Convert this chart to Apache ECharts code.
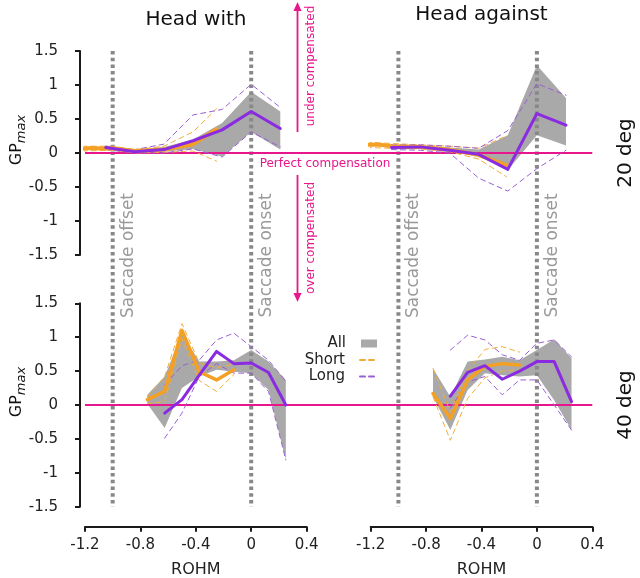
<!DOCTYPE html>
<html><head><meta charset="utf-8">
<script src="https://cdn.jsdelivr.net/npm/echarts@6/dist/echarts.min.js"></script>
<style>html,body{margin:0;padding:0;background:#fff}#c{width:640px;height:578px}</style>
</head><body><div id="c"></div>
<script>
// ---------- data ----------
const xTicks = [-1.2, -0.8, -0.4, 0, 0.4];
const yTicks = [-1.5, -1, -0.5, 0, 0.5, 1, 1.5];
const panelTitles = ['Head with', 'Head against'];
const rowLabels = ['20 deg', '40 deg'];
const eventX = [-1, 0];
const eventNames = ['Saccade offset', 'Saccade onset'];

// 20 deg bins
const topX = [-1.05, -0.84, -0.63, -0.42, -0.21, 0, 0.21];
// 40 deg bins
const botAllX = [-0.75, -0.625, -0.5, -0.375, -0.25, -0.125, 0, 0.125, 0.25];
const botShortX = [-0.75, -0.625, -0.5, -0.375, -0.25, -0.125];
const botLongX = [-0.625, -0.5, -0.375, -0.25, -0.125, 0, 0.125, 0.25];

// Head with, 20 deg
const tlShortMeanX = [-1.22, -1.15, -1.08, -1.0, -0.84, -0.63, -0.42, -0.25];
const tlShortMean = [0.065, 0.075, 0.065, 0.07, 0.03, 0.05, 0.13, 0.35];
const tlShortX = [-1.22, -1.0, -0.84, -0.63, -0.42, -0.25];
const tlShortHi = [0.1, 0.1, 0.05, 0.1, 0.31, 0.65];
const tlShortLo = [0.03, 0.04, 0.0, 0.01, 0.03, -0.12];
const tlLong = [0.08, 0.02, 0.05, 0.18, 0.34, 0.61, 0.36];
const tlLongHi = [0.1, 0.05, 0.13, 0.56, 0.64, 1.01, 0.67];
const tlLongLo = [0.05, 0.0, 0.0, 0.06, -0.06, 0.31, 0.09];
const tlAllHi = [0.11, 0.05, 0.09, 0.2, 0.44, 0.9, 0.61];
const tlAllLo = [0.05, 0.01, 0.02, 0.06, -0.05, 0.31, 0.05];

// Head against, 20 deg
const trShortMeanX = [-1.23, -1.16, -1.1, -1.05, -0.84, -0.63, -0.42, -0.22];
const trShortMean = [0.12, 0.125, 0.115, 0.1, 0.09, 0.05, -0.03, -0.18];
const trShortX = [-1.23, -1.05, -0.84, -0.63, -0.42, -0.22];
const trShortHi = [0.16, 0.14, 0.12, 0.1, 0.07, 0.25];
const trShortLo = [0.08, 0.07, 0.06, 0.02, -0.09, -0.35];
const trLong = [0.08, 0.09, 0.04, -0.02, -0.24, 0.58, 0.41];
const trLongHi = [0.12, 0.12, 0.1, 0.07, 0.33, 1.02, 0.85];
const trLongLo = [0.05, 0.04, 0.0, -0.37, -0.56, -0.23, 0.04];
const trAllHi = [0.12, 0.11, 0.08, 0.05, 0.26, 1.29, 0.81];
const trAllLo = [0.05, 0.06, 0.01, -0.04, -0.25, 0.26, 0.11];

// Head with, 40 deg
const blShort = [0.08, 0.2, 1.1, 0.49, 0.37, 0.52];
const blShortHi = [0.12, 0.42, 1.2, 0.62, 0.55, 0.6];
const blShortLo = [0.02, 0.05, 0.98, 0.36, 0.2, 0.45];
const blLong = [-0.12, 0.08, 0.44, 0.79, 0.61, 0.62, 0.48, 0.0];
const blLongHi = [0.3, 0.58, 0.66, 0.96, 1.06, 0.86, 0.66, 0.35];
const blLongLo = [-0.49, -0.12, 0.42, 0.61, 0.47, 0.47, 0.2, -0.81];
const blAllHi = [0.15, 0.42, 1.05, 0.64, 0.64, 0.66, 0.81, 0.64, 0.37];
const blAllLo = [0.02, -0.34, 0.25, 0.42, 0.52, 0.49, 0.47, 0.22, -0.81];

// Head against, 40 deg
const brShort = [0.17, -0.2, 0.37, 0.57, 0.61, 0.59];
const brShortHi = [0.54, -0.1, 0.5, 0.82, 0.86, 0.78];
const brShortLo = [0.12, -0.52, 0.1, 0.4, 0.5, 0.52];
const brLong = [0.13, 0.48, 0.58, 0.38, 0.5, 0.64, 0.64, 0.05];
const brLongHi = [0.81, 1.03, 0.96, 0.74, 0.66, 0.91, 0.96, 0.71];
const brLongLo = [-0.05, 0.34, 0.42, 0.15, 0.37, 0.37, 0.0, -0.37];
const brAllHi = [0.54, 0.12, 0.64, 0.67, 0.71, 0.66, 0.81, 0.97, 0.69];
const brAllLo = [0.12, -0.37, 0.22, 0.47, 0.44, 0.42, 0.44, 0.07, -0.37];

// ---------- styles ----------
const FONT = 'DejaVu Sans';
const ORANGE = '#f4a024';
const ORANGE_D = '#f2ac3a';
const PURPLE = '#8a2be2';
const PURPLE_D = '#9a5fd4';
const GRAY = '#a9a9a9';
const PINK = '#e8168c';
const DOT = '#888888';
const INK = '#1a1a1a';

function zip(xs, ys) { return xs.map((x, i) => [x, ys[i]]); }

function band(gi, xs, lo, hi) {
  return {
    type: 'custom', name: 'All', xAxisIndex: gi, yAxisIndex: gi, z: 1, silent: true,
    itemStyle: { color: GRAY },
    data: xs.map((x, i) => [x, lo[i], hi[i]]),
    encode: { x: 0, y: [1, 2] },
    renderItem(params, api) {
      if (params.dataIndexInside !== 0) return null;
      const n = params.dataInsideLength;
      const up = [], dn = [];
      for (let i = 0; i < n; i++) {
        up.push(api.coord([api.value(0, i), api.value(2, i)]));
        dn.push(api.coord([api.value(0, i), api.value(1, i)]));
      }
      return { type: 'polygon', shape: { points: up.concat(dn.reverse()) }, style: { fill: GRAY } };
    }
  };
}
function line(name, gi, xs, ys, color, width, dashed, z) {
  return {
    type: 'line', name, xAxisIndex: gi, yAxisIndex: gi, z, silent: true,
    data: zip(xs, ys), symbol: 'none',
    lineStyle: { color, width, type: dashed ? [5, 4] : 'solid', cap: 'round', join: 'round' },
    itemStyle: { color }
  };
}
function panel(gi, allX, allLo, allHi, sX, sHi, sLo, smX, sm, lX, lHi, lLo, lm, smWidth) {
  return [
    band(gi, allX, allLo, allHi),
    line('Short', gi, sX, sHi, ORANGE_D, 1, true, 3),
    line('Short', gi, sX, sLo, ORANGE_D, 1, true, 3),
    line('Long', gi, lX, lHi, PURPLE_D, 1, true, 3),
    line('Long', gi, lX, lLo, PURPLE_D, 1, true, 3),
    line('Short mean', gi, smX, sm, ORANGE, smWidth, false, 4),
    line('Long mean', gi, lX, lm, PURPLE, 3, false, 5)
  ];
}

const series = [].concat(
  panel(0, topX, tlAllLo, tlAllHi, tlShortX, tlShortHi, tlShortLo, tlShortMeanX, tlShortMean, topX, tlLongHi, tlLongLo, tlLong, 4),
  panel(1, topX, trAllLo, trAllHi, trShortX, trShortHi, trShortLo, trShortMeanX, trShortMean, topX, trLongHi, trLongLo, trLong, 4),
  panel(2, botAllX, blAllLo, blAllHi, botShortX, blShortHi, blShortLo, botShortX, blShort, botLongX, blLongHi, blLongLo, blLong, 3.5),
  panel(3, botAllX, brAllLo, brAllHi, botShortX, brShortHi, brShortLo, botShortX, brShort, botLongX, brLongHi, brLongLo, brLong, 3.5)
);

const gridPos = [
  { left: 85, top: 51, width: 221.6, height: 204 },
  { left: 370.7, top: 51, width: 221.6, height: 204 },
  { left: 85, top: 303.3, width: 221.6, height: 203.4 },
  { left: 370.7, top: 303.3, width: 221.6, height: 203.4 }
];

const axisLineStyle = { color: INK, width: 2 };
const xAxis = gridPos.map((g, gi) => ({
  gridIndex: gi, type: 'value', min: xTicks[0], max: xTicks[xTicks.length - 1], interval: 0.4,
  show: gi >= 2, offset: 20,
  axisLine: { show: true, onZero: false, lineStyle: axisLineStyle },
  axisTick: { show: true, length: 5, lineStyle: axisLineStyle },
  axisLabel: { fontSize: 15, color: '#222', margin: 11, fontFamily: FONT },
  splitLine: { show: false },
  name: 'ROHM', nameLocation: 'middle', nameGap: 35,
  nameTextStyle: { fontSize: 16, color: '#222', fontFamily: FONT }
}));
const yAxis = gridPos.map((g, gi) => ({
  gridIndex: gi, type: 'value', min: yTicks[0], max: yTicks[yTicks.length - 1], interval: 0.5,
  show: gi % 2 === 0, offset: 5,
  axisLine: { show: true, onZero: false, lineStyle: axisLineStyle },
  axisTick: { show: true, length: 5, lineStyle: axisLineStyle },
  axisLabel: { fontSize: 15, color: '#222', margin: 22, fontFamily: FONT },
  splitLine: { show: false }
}));

const legendBase = {
  orient: 'vertical', align: 'right', right: 263, itemWidth: 16, itemHeight: 8,
  selectedMode: false, padding: 0,
  textStyle: { fontSize: 15, color: '#222', fontFamily: FONT, padding: [0, 10, 0, 0] }
};

const chart = echarts.init(document.getElementById('c'), null, { renderer: 'canvas' });
chart.setOption({
  animation: false,
  textStyle: { fontFamily: FONT },
  grid: gridPos.map(g => Object.assign({ containLabel: false, outerBoundsMode: 'none' }, g)),
  xAxis, yAxis, series,
  legend: [
    Object.assign({}, legendBase, { top: 336, data: [{ name: 'All', icon: 'rect' }] }),
    Object.assign({}, legendBase, { top: 352.5, data: ['Short'], itemStyle: { opacity: 0 } }),
    Object.assign({}, legendBase, { top: 369, data: ['Long'], itemStyle: { opacity: 0 } })
  ]
});

// ---------- annotations ----------
const px = (gi, x, y) => chart.convertToPixel({ gridIndex: gi }, [x, y]);
const els = [];
// event lines and labels
[0, 1].forEach(col => {
  eventX.forEach((ex, k) => {
    const a = px(col, ex, yTicks[yTicks.length - 1]);
    const b = px(col + 2, ex, yTicks[0]);
    els.push({ type: 'line', z: 2, silent: true, shape: { x1: a[0], y1: a[1], x2: b[0], y2: b[1] },
      style: { stroke: DOT, lineWidth: 4, lineDash: [3.5, 3.2] } });
    els.push({ type: 'text', z: 6, silent: true, x: a[0] + 15.5, y: 255.5, rotation: Math.PI / 2,
      style: { text: eventNames[k], fontSize: 17, fontFamily: FONT, fill: '#9a9a9a', align: 'center', verticalAlign: 'middle' } });
  });
});
// perfect compensation lines
[[0, 1], [2, 3]].forEach(([g1, g2]) => {
  const a = px(g1, xTicks[0], 0), b = px(g2, xTicks[xTicks.length - 1], 0);
  els.push({ type: 'line', z: 2, silent: true, shape: { x1: a[0], y1: a[1], x2: b[0], y2: b[1] },
    style: { stroke: PINK, lineWidth: 1.8 } });
});
const zc = px(0, 0, 0);
els.push({ type: 'text', z: 6, silent: true, x: 325, y: zc[1] + 10.5,
  style: { text: 'Perfect compensation', fontSize: 12, fontFamily: FONT, fill: PINK, align: 'center', verticalAlign: 'middle' } });
// arrows
const AX = 297.5;
els.push({ type: 'line', z: 6, silent: true, shape: { x1: AX, y1: 132, x2: AX, y2: 9 }, style: { stroke: PINK, lineWidth: 1.8 } });
els.push({ type: 'polygon', z: 6, silent: true, shape: { points: [[AX, 2], [AX - 4, 11], [AX + 4, 11]] }, style: { fill: PINK } });
els.push({ type: 'line', z: 6, silent: true, shape: { x1: AX, y1: 175, x2: AX, y2: 295 }, style: { stroke: PINK, lineWidth: 1.8 } });
els.push({ type: 'polygon', z: 6, silent: true, shape: { points: [[AX, 302], [AX - 4, 293], [AX + 4, 293]] }, style: { fill: PINK } });
els.push({ type: 'text', z: 6, silent: true, x: 311, y: 66, rotation: Math.PI / 2,
  style: { text: 'under compensated', fontSize: 12, fontFamily: FONT, fill: PINK, align: 'center', verticalAlign: 'middle' } });
els.push({ type: 'text', z: 6, silent: true, x: 311, y: 238, rotation: Math.PI / 2,
  style: { text: 'over compensated', fontSize: 12, fontFamily: FONT, fill: PINK, align: 'center', verticalAlign: 'middle' } });
// titles
els.push({ type: 'text', z: 6, silent: true, x: 196, y: 20,
  style: { text: panelTitles[0], fontSize: 20, fontFamily: FONT, fill: '#111', align: 'center', verticalAlign: 'middle' } });
els.push({ type: 'text', z: 6, silent: true, x: 481.5, y: 15,
  style: { text: panelTitles[1], fontSize: 20, fontFamily: FONT, fill: '#111', align: 'center', verticalAlign: 'middle' } });
// row labels and y names
[0, 2].forEach((gi, r) => {
  const z0 = px(gi, 0, 0);
  els.push({ type: 'text', z: 6, silent: true, x: 626, y: z0[1], rotation: Math.PI / 2,
    style: { text: rowLabels[r], fontSize: 20, fontFamily: FONT, fill: '#111', align: 'center', verticalAlign: 'middle' } });
  els.push({ type: 'text', z: 6, silent: true, x: 17, y: z0[1] - 13, rotation: Math.PI / 2,
    style: { text: '{a|GP}{b|max}', fontFamily: FONT, fill: '#111', align: 'center', verticalAlign: 'middle',
      rich: { a: { fontSize: 16, lineHeight: 16, fill: '#111', fontFamily: FONT, verticalAlign: 'middle' },
              b: { fontSize: 13, lineHeight: 22, fill: '#111', fontStyle: 'italic', fontFamily: FONT, verticalAlign: 'bottom' } } } });
});
chart.setOption({ graphic: { elements: els } });
</script>
</body></html>
